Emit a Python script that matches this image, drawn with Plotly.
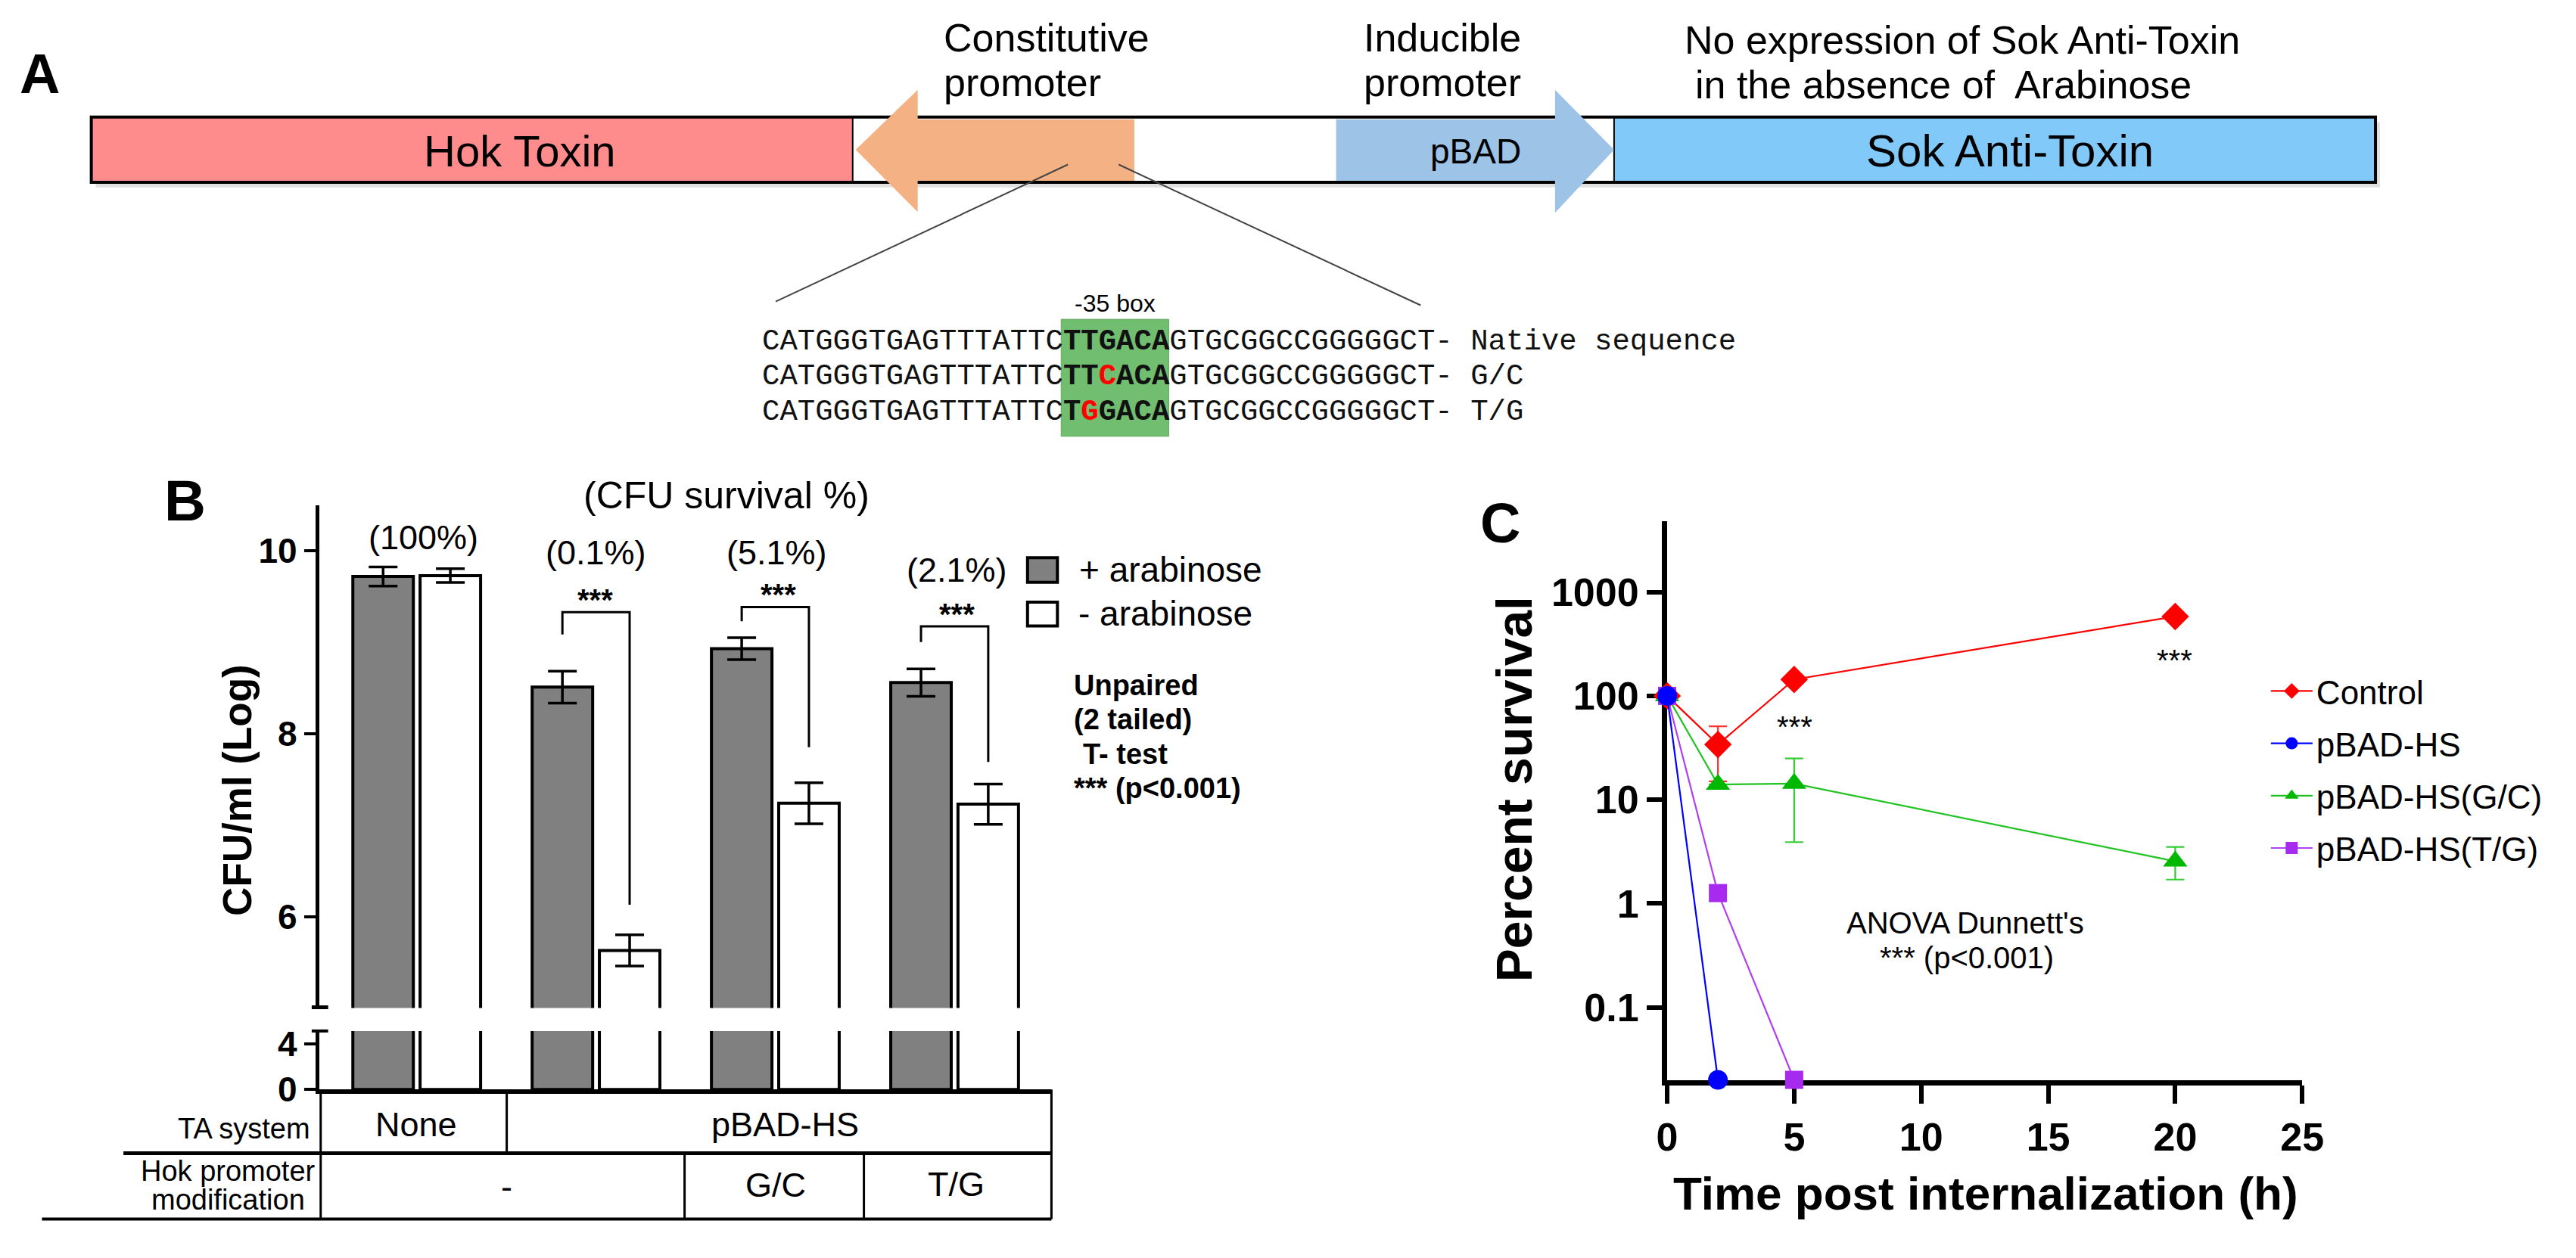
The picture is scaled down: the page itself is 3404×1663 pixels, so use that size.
import math
import plotly.graph_objects as go

W, H = 3404, 1663
SANS = "Liberation Sans, Arial, sans-serif"
MONO = "Liberation Mono, DejaVu Sans Mono, monospace"

# ---------------- Panel B data ----------------
groups = [0, 1, 2, 3]
plus_ara = [9.72, 8.51, 8.93, 8.56]
plus_err = [0.105, 0.175, 0.12, 0.15]
minus_ara = [9.73, 5.63, 7.24, 7.23]
minus_err = [0.075, 0.17, 0.225, 0.22]
survival_labels = ["(100%)", "(0.1%)", "(5.1%)", "(2.1%)"]
ta_system = ["None", "pBAD-HS"]
hok_mod = ["-", "G/C", "T/G"]
b_upper_ticks = [6, 8, 10]
b_lower_ticks = [0, 4]

# ---------------- Panel C data ----------------
control_t = [0, 2, 5, 20]
control_v = [100, 34, 144, 582]
control_up = [0, 17, 0, 0]
control_dn = [0, 19, 0, 0]
pbad_t = [0, 2]
pbad_v = [100, 0.02]
gc_t = [0, 2, 5, 20]
gc_v = [100, 14, 14.3, 2.55]
gc_up = [0, 0, 10.7, 0.95]
gc_dn = [0, 0, 10.4, 0.85]
tg_t = [0, 2, 5]
tg_v = [100, 1.26, 0.02]
c_xticks = [0, 5, 10, 15, 20, 25]
c_yticks = [0.1, 1, 10, 100, 1000]
c_yticklabels = ["0.1", "1", "10", "100", "1000"]

# ---------------- Panel A sequences ----------------
seq_prefix = "CATGGGTGAGTTTATTC"
seq_suffix = "GTGCGGCCGGGGGCT-"
seq_boxes = ["<b>TTGACA</b>",
             "<b>TT<span style='color:#FF0000'>C</span>ACA</b>",
             "<b>T<span style='color:#FF0000'>G</span>GACA</b>"]
seq_names = ["Native sequence", "G/C", "T/G"]


def px(x):
    return x / W


def py(y):
    return 1 - y / H


shapes = []
ann = []


def rect(x0, y0, x1, y1, fill, lc=None, lw=0):
    shapes.append(dict(type='rect', xref='paper', yref='paper',
                       x0=px(x0), x1=px(x1), y0=py(y1), y1=py(y0),
                       fillcolor=fill,
                       line=dict(color=lc or 'rgba(0,0,0,0)', width=lw)))


def seg(x0, y0, x1, y1, color='black', w=3):
    shapes.append(dict(type='line', xref='paper', yref='paper',
                       x0=px(x0), y0=py(y0), x1=px(x1), y1=py(y1),
                       line=dict(color=color, width=w)))


def poly(points, fill):
    path = 'M ' + ' L '.join(f'{px(x):.6f},{py(y):.6f}' for x, y in points) + ' Z'
    shapes.append(dict(type='path', xref='paper', yref='paper', path=path,
                       fillcolor=fill, line=dict(width=0)))


def text(x, y, s, size, bold=False, anchor='center', color='black',
         family=SANS, angle=0):
    ann.append(dict(xref='paper', yref='paper', x=px(x), y=py(y), text=s,
                    showarrow=False, xanchor=anchor, yanchor='middle',
                    textangle=angle,
                    font=dict(size=size, color=color, family=family,
                              weight='bold' if bold else 'normal')))


# ================= Panel A drawing =================
text(39, 90, "A", 74, bold=True)
rect(114, 156, 3171, 244, 'rgba(0,0,0,0.12)')
rect(108, 149, 3165, 237, 'white')
rect(108, 149, 1127, 237, '#FF8C8C')
rect(2146, 149, 3165, 237, '#80C9F9')
rect(108, 149, 3165, 237, 'rgba(0,0,0,0)', 'black', 4)
seg(1127, 149, 1127, 237, 'black', 2)
seg(2146, 149, 2146, 237, 'black', 2)
poly([(1131, 193), (1214, 112), (1214, 152), (1504, 152), (1504, 235),
      (1214, 235), (1214, 277)], '#F4B183')
poly([(1774, 152), (2067, 152), (2067, 112), (2146, 193), (2067, 278),
      (2067, 235), (1774, 235)], '#9DC3E6')
text(682, 195, "Hok Toxin", 58)
text(1961, 195, "pBAD", 46)
text(2676, 195, "Sok Anti-Toxin", 60)
text(1247, 42, "Constitutive", 52, anchor='left')
text(1247, 102, "promoter", 52, anchor='left')
text(1809, 42, "Inducible", 52, anchor='left')
text(1809, 102, "promoter", 52, anchor='left')
text(2238, 45, "No expression of Sok Anti-Toxin", 52, anchor='left')
text(2252, 105, "in the absence of  Arabinose", 52, anchor='left')
seg(1415, 213, 1024, 398, '#444444', 2)
seg(1483, 213, 1887, 403, '#444444', 2)
rect(1406, 422, 1550, 580, '#72BE70', '#5FA85D', 1)
text(1478, 400, "-35 box", 32)
row_y = [453, 500, 548]
for i in range(3):
    s = seq_prefix + seq_boxes[i] + seq_suffix + " " + seq_names[i]
    text(1004, row_y[i], s, 39, anchor='left', family=MONO, color='#111111')

# ================= Panel B =================
BAR_W = 0.3375
GAP = 0.01875
fig = go.Figure()
for yax, with_err in (('y', True), ('y2', False)):
    fig.add_trace(go.Bar(
        x=groups, y=plus_ara, width=BAR_W, offset=-(BAR_W + GAP),
        marker=dict(color='#808080', line=dict(color='black', width=4)),
        error_y=dict(type='data', array=plus_err, color='black',
                     thickness=3.5, width=19, visible=with_err),
        xaxis='x', yaxis=yax, showlegend=False, hoverinfo='skip'))
    fig.add_trace(go.Bar(
        x=groups, y=minus_ara, width=BAR_W, offset=GAP,
        marker=dict(color='white', line=dict(color='black', width=4)),
        error_y=dict(type='data', array=minus_err, color='black',
                     thickness=3.5, width=19, visible=with_err),
        xaxis='x', yaxis=yax, showlegend=False, hoverinfo='skip'))

text(233, 667, "B", 76, bold=True)
text(958, 660, "(CFU survival %)", 50)
surv_pos = [(552, 717), (783, 737), (1025, 737), (1266, 761)]
for (x, y), s in zip(surv_pos, survival_labels):
    text(x, y, s, 45)

off = BAR_W / 2 + GAP
sig_groups = [1, 2, 3]
br_top = [9.33, 9.385, 9.174]
br_left = [9.085, 9.23, 9.004]
br_right = [6.13, 7.854, 7.692]
star_px = [(782, 792), (1027, 785), (1267, 811)]
for g, t, l, r, (sx, sy) in zip(sig_groups, br_top, br_left, br_right, star_px):
    shapes.append(dict(type='path', xref='x', yref='y',
                       path=f'M {g-off},{l} L {g-off},{t} L {g+off},{t} L {g+off},{r}',
                       line=dict(color='black', width=3)))
    text(sx, sy + 9, "***", 40, bold=True)

rect(1361, 744, 1401, 777, '#808080', 'black', 4)
rect(1361, 804, 1401, 836, 'white', 'black', 4)
text(1428, 760, "+ arabinose", 46, anchor='left')
text(1427, 819, "- arabinose", 46, anchor='left')
text(1421, 916, "Unpaired", 38, bold=True, anchor='left')
text(1421, 962, "(2 tailed)", 38, bold=True, anchor='left')
text(1433, 1009, "T- test", 38, bold=True, anchor='left')
text(1421, 1055, "*** (p<0.001)", 38, bold=True, anchor='left')
text(304, 1058, "CFU/ml (Log)", 53, bold=True, angle=-90)

seg(403, 1351, 425, 1351, 'black', 5)
seg(403, 1383, 425, 1383, 'black', 4)

seg(415, 1462, 415, 1637, 'black', 3)
seg(664, 1462, 664, 1548, 'black', 3)
seg(1393, 1462, 1393, 1637, 'black', 3)
seg(151, 1548, 1393, 1548, 'black', 5)
seg(902, 1548, 902, 1637, 'black', 3)
seg(1142, 1548, 1142, 1637, 'black', 3)
seg(42, 1637, 1393, 1637, 'black', 4)
text(312, 1515, "TA system", 38)
text(291, 1572, "Hok promoter", 38)
text(291, 1611, "modification", 38)
text(543, 1509, ta_system[0], 45)
text(1037, 1509, ta_system[1], 45)
text(664, 1593, hok_mod[0], 45)
text(1024, 1591, hok_mod[1], 45)
text(1265, 1590, hok_mod[2], 45)

# ================= Panel C =================
line_w = 2.2
fig.add_trace(go.Scatter(
    x=control_t, y=control_v, mode='lines+markers', name='Control',
    line=dict(color='#FF0000', width=line_w),
    marker=dict(symbol='diamond', size=28, color='#FF0000'),
    error_y=dict(type='data', array=control_up, arrayminus=control_dn,
                 color='#FF3333', thickness=2.2, width=12),
    xaxis='x3', yaxis='y3', cliponaxis=False, legendrank=1, legendgroup='a'))
fig.add_trace(go.Scatter(
    x=gc_t, y=gc_v, mode='lines+markers', name='pBAD-HS(G/C)',
    line=dict(color='#22C322', width=line_w),
    marker=dict(symbol='triangle-up', size=28, color='#00B800'),
    error_y=dict(type='data', array=gc_up, arrayminus=gc_dn,
                 color='#33CC33', thickness=2.2, width=12),
    xaxis='x3', yaxis='y3', cliponaxis=False, legendrank=3, legendgroup='c'))
fig.add_trace(go.Scatter(
    x=tg_t, y=tg_v, mode='lines+markers', name='pBAD-HS(T/G)',
    line=dict(color='#B040F0', width=line_w),
    marker=dict(symbol='square', size=24, color='#A62BEF'),
    xaxis='x3', yaxis='y3', cliponaxis=False, legendrank=4, legendgroup='d'))
fig.add_trace(go.Scatter(
    x=pbad_t, y=pbad_v, mode='lines+markers', name='pBAD-HS',
    line=dict(color='#0000FF', width=line_w),
    marker=dict(symbol='circle', size=26, color='#0000FF'),
    xaxis='x3', yaxis='y3', cliponaxis=False, legendrank=2, legendgroup='b'))

text(1994, 697, "C", 74, bold=True)
text(2012, 1057, "Percent survival", 66, bold=True, angle=-90)
text(2643, 1602, "Time post internalization (h)", 62, bold=True)
text(2388, 972, "***", 40)
text(2896, 883, "***", 40)
text(2616, 1237, "ANOVA Dunnett's", 40)
text(2618, 1284, "*** (p<0.001)", 40)

axis_common = dict(showgrid=False, zeroline=False, showline=True,
                   linecolor='black', ticks='outside', tickcolor='black')

fig.update_layout(
    width=W, height=H, margin=dict(l=0, r=0, t=0, b=0),
    paper_bgcolor='white', plot_bgcolor='rgba(0,0,0,0)',
    barmode='overlay', font=dict(family=SANS, color='black'),
    xaxis=dict(domain=[px(413), px(1393)], range=[-0.544, 3.540],
               anchor='y2', showgrid=False, zeroline=False, showline=True,
               linecolor='black', linewidth=6, showticklabels=False,
               ticks='', fixedrange=True),
    yaxis=dict(domain=[py(1352), py(673)], range=[5.0, 10.5], anchor='x',
               tickvals=b_upper_ticks, linewidth=5, ticklen=15, tickwidth=4,
               tickfont=dict(size=46, family=SANS, weight='bold'),
               **axis_common),
    yaxis2=dict(domain=[py(1462), py(1383)], range=[0, 5.1], anchor='x',
                tickvals=b_lower_ticks, linewidth=5, ticklen=15, tickwidth=4,
                tickfont=dict(size=46, family=SANS, weight='bold'),
                **axis_common),
    xaxis3=dict(domain=[px(2217), px(3067)], range=[0, 25], anchor='y3',
                tickvals=c_xticks, linewidth=7, ticklen=24, tickwidth=6,
                layer='below traces',
                tickfont=dict(size=52, family=SANS, weight='bold'),
                **axis_common),
    yaxis3=dict(domain=[py(1449), py(695)], type='log',
                range=[math.log10(0.02), 3.68], anchor='x3',
                tickvals=c_yticks, ticktext=c_yticklabels,
                linewidth=7, ticklen=20, tickwidth=6, layer='below traces',
                tickfont=dict(size=52, family=SANS, weight='bold'),
                **axis_common),
    legend=dict(x=px(3020), y=py(888), xanchor='left', yanchor='top',
                font=dict(size=44, family=SANS), itemwidth=55,
                tracegroupgap=9, bgcolor='rgba(0,0,0,0)',
                traceorder='grouped'),
    shapes=shapes, annotations=ann,
)

fig.write_html("out.html", config={'displayModeBar': False},
               post_script="document.body.style.margin='0';document.body.style.overflow='hidden';")
